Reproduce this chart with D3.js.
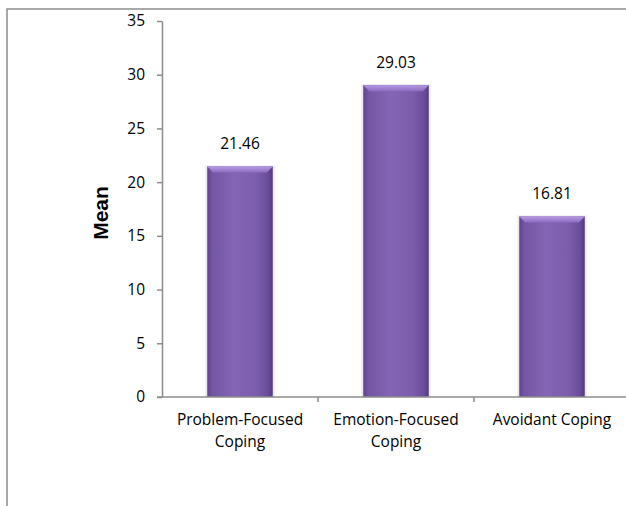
<!DOCTYPE html>
<html>
<head>
<meta charset="utf-8">
<script src="https://cdn.jsdelivr.net/npm/d3@7"></script>
<style>
  body { margin: 0; background: #fff; }
  svg { display: block; }
</style>
</head>
<body>
<div id="chart"></div>
<script>
const categories = [["Problem-Focused", "Coping"], ["Emotion-Focused", "Coping"], ["Avoidant Coping"]];
const means = [21.46, 29.03, 16.81];
const yTicks = [0, 5, 10, 15, 20, 25, 30, 35];

const width = 626;
const height = 506;
const margin = { left: 162, top: 21, bottom: 109 };
const font = "'Open Sans', Lato, sans-serif";
const fontSize = "15.5px";

const svg = d3
  .select("#chart")
  .append("svg")
  .attr("width", width)
  .attr("height", height);

const defs = svg.append("defs");

// side shading of the bars
const grad = defs
  .append("linearGradient")
  .attr("id", "barGrad")
  .attr("x1", "0%")
  .attr("x2", "100%");
[
  ["0%", "#5f4390"],
  ["8%", "#7356a4"],
  ["40%", "#8464b4"],
  ["75%", "#7c5dac"],
  ["92%", "#6a4e9a"],
  ["100%", "#55397f"],
].forEach((s) => grad.append("stop").attr("offset", s[0]).attr("stop-color", s[1]));

// top bevel
const topGrad = defs
  .append("linearGradient")
  .attr("id", "topGrad")
  .attr("x1", "0%")
  .attr("x2", "0%")
  .attr("y1", "0%")
  .attr("y2", "100%");
topGrad.append("stop").attr("offset", "0%").attr("stop-color", "#b89ae6");
topGrad.append("stop").attr("offset", "100%").attr("stop-color", "#8c6cc0");

// outer frame (clipped on right and bottom)
svg
  .append("rect")
  .attr("x", 7)
  .attr("y", 9)
  .attr("width", 700)
  .attr("height", 600)
  .attr("fill", "none")
  .attr("stroke", "#8c8c8c")
  .attr("stroke-width", 1.5);

const x = d3
  .scaleBand()
  .domain(d3.range(categories.length))
  .range([margin.left, margin.left + 156 * 3])
  .paddingInner(0.58)
  .paddingOuter(0.29);

const y = d3
  .scaleLinear()
  .domain([0, 35])
  .range([height - margin.bottom, margin.top]);

// bars
const bars = svg
  .selectAll(".bar")
  .data(means)
  .enter()
  .append("g")
  .attr("class", "bar");

bars
  .append("rect")
  .attr("x", (d, i) => x(i) - 2)
  .attr("y", (d) => y(d) - 1)
  .attr("width", x.bandwidth() + 4)
  .attr("height", (d) => y(0) - y(d) + 1)
  .attr("fill", "#ececec");

bars
  .append("rect")
  .attr("x", (d, i) => x(i))
  .attr("y", (d) => y(d))
  .attr("width", x.bandwidth())
  .attr("height", (d) => y(0) - y(d))
  .attr("fill", "url(#barGrad)");

bars
  .append("path")
  .attr("d", (d, i) => {
    const x0 = x(i), x1 = x(i) + x.bandwidth(), t = y(d);
    return `M${x0},${t}L${x1},${t}L${x1 - 6},${t + 6}L${x0 + 6},${t + 6}Z`;
  })
  .attr("fill", "url(#topGrad)");

bars
  .append("text")
  .attr("x", (d, i) => x(i) + x.bandwidth() / 2)
  .attr("y", (d) => y(d) - 17)
  .attr("text-anchor", "middle")
  .style("font-family", font)
  .style("font-size", fontSize)
  .style("fill", "#000")
  .text((d) => d.toFixed(2));

// y axis
const yAxis = svg
  .append("g")
  .attr("transform", `translate(${margin.left},0)`)
  .call(d3.axisLeft(y).tickValues(yTicks).tickSize(5).tickSizeOuter(0).tickPadding(12));
yAxis.select(".domain").attr("stroke", "#8c8c8c").attr("stroke-width", 1.5);
yAxis.selectAll(".tick line").attr("stroke", "#8c8c8c").attr("stroke-width", 1.5);
yAxis
  .selectAll(".tick text")
  .style("font-family", font)
  .style("font-size", fontSize)
  .style("fill", "#000");

// x axis line and separators
svg
  .append("line")
  .attr("x1", margin.left - 5)
  .attr("x2", margin.left + 156 * 3)
  .attr("y1", y(0))
  .attr("y2", y(0))
  .attr("stroke", "#8c8c8c")
  .attr("stroke-width", 1.5);

svg
  .selectAll(".sep")
  .data(d3.range(1, categories.length + 1))
  .enter()
  .append("line")
  .attr("class", "sep")
  .attr("x1", (d) => margin.left + 156 * d)
  .attr("x2", (d) => margin.left + 156 * d)
  .attr("y1", y(0))
  .attr("y2", y(0) + 5)
  .attr("stroke", "#8c8c8c")
  .attr("stroke-width", 1.5);

// category labels
const catText = svg
  .selectAll(".cat")
  .data(categories)
  .enter()
  .append("text")
  .attr("class", "cat")
  .attr("text-anchor", "middle")
  .style("font-family", font)
  .style("font-size", fontSize)
  .style("fill", "#000");

catText
  .selectAll("tspan")
  .data((d, i) => d.map((t) => ({ t, i })))
  .enter()
  .append("tspan")
  .attr("x", (d) => x(d.i) + x.bandwidth() / 2)
  .attr("y", (d, j) => y(0) + 28 + j * 22)
  .text((d) => d.t);

// y axis title
svg
  .append("text")
  .attr("transform", `translate(108,${(y(0) + y(35)) / 2 + 4}) rotate(-90)`)
  .attr("text-anchor", "middle")
  .style("font-family", "'Liberation Sans', Arial, sans-serif")
  .style("font-weight", "bold")
  .style("font-size", "21px")
  .text("Mean");
</script>
</body>
</html>
